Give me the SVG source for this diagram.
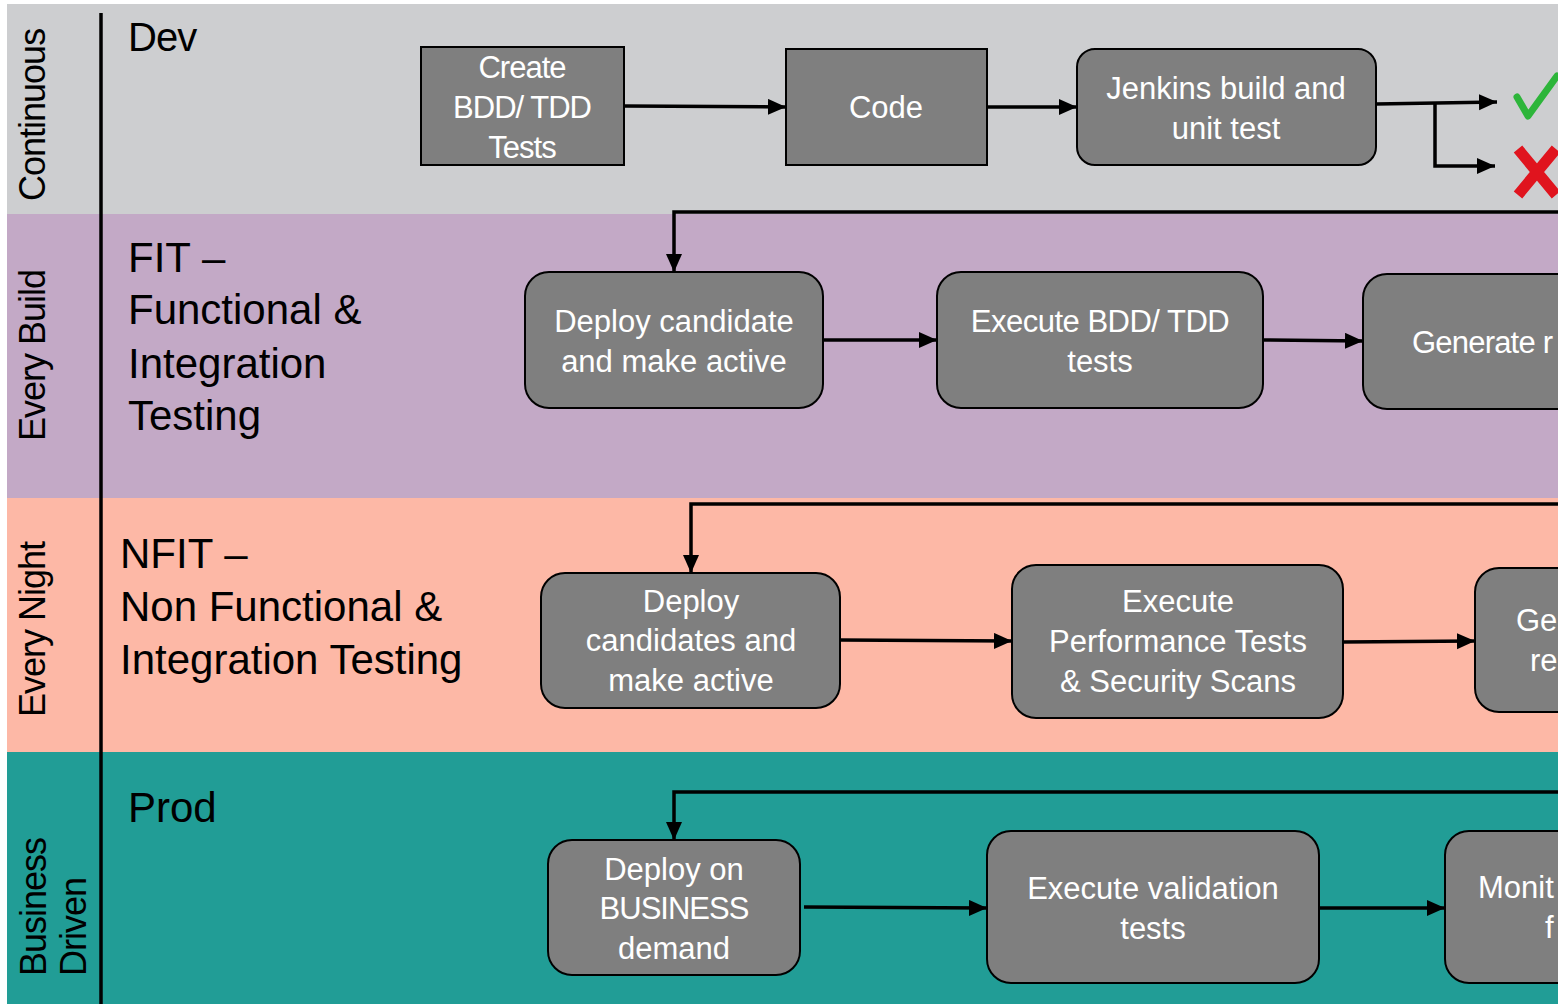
<svg xmlns="http://www.w3.org/2000/svg" width="1558" height="1004" viewBox="0 0 1558 1004">
<defs>
<marker id="ah" markerUnits="userSpaceOnUse" markerWidth="20" markerHeight="18" refX="18" refY="8" orient="auto">
<path d="M0,0 L18,8 L0,16 Z" fill="#000"/>
</marker>
<style>
.lane-label{font-family:"Liberation Sans",Arial,sans-serif;font-size:36px;fill:#000;letter-spacing:-1px}
.title{font-family:"Liberation Sans",Arial,sans-serif;font-size:42px;fill:#000}
.box{fill:#7F7F7F;stroke:#000;stroke-width:2}
.bt{font-family:"Liberation Sans",Arial,sans-serif;font-size:31px;fill:#fff;text-anchor:middle}
.conn{fill:none;stroke:#000;stroke-width:3.5}
</style>
</defs>
<rect width="1558" height="1004" fill="#fff"/>
<g id="lanes">
<rect x="7" y="4" width="1551" height="210" fill="#CDCED0"/>
<rect x="7" y="214" width="1551" height="284" fill="#C3A9C6"/>
<rect x="7" y="498" width="1551" height="254" fill="#FDB8A6"/>
<rect x="7" y="752" width="1551" height="252" fill="#219D96"/>
<line x1="101" y1="13" x2="101" y2="1004" stroke="#000" stroke-width="3.5"/>
</g>
<g id="lane-labels">
<text class="lane-label" transform="translate(45,201) rotate(-90)">Continuous</text>
<text class="lane-label" transform="translate(45,441) rotate(-90)">Every Build</text>
<text class="lane-label" transform="translate(45,717) rotate(-90)">Every Night</text>
<text class="lane-label" transform="translate(46,976) rotate(-90)">Business</text>
<text class="lane-label" transform="translate(86,976) rotate(-90)">Driven</text>
</g>
<g id="titles">
<text class="title" x="128" y="51" style="font-size:40px;letter-spacing:-1px">Dev</text>
<text class="title" x="128" y="272">FIT –</text>
<text class="title" x="128" y="324">Functional &amp;</text>
<text class="title" x="128" y="378">Integration</text>
<text class="title" x="128" y="430">Testing</text>
<text class="title" x="120" y="568">NFIT –</text>
<text class="title" x="120" y="621">Non Functional &amp;</text>
<text class="title" x="120" y="674">Integration Testing</text>
<text class="title" x="128" y="822">Prod</text>
</g>
<g id="connectors">
<line class="conn" x1="624" y1="106" x2="786" y2="107" marker-end="url(#ah)"/>
<line class="conn" x1="987" y1="107" x2="1077" y2="107" marker-end="url(#ah)"/>
<line class="conn" x1="1376" y1="104" x2="1497" y2="102" marker-end="url(#ah)"/>
<polyline class="conn" points="1435,103 1435,166 1495,166" marker-end="url(#ah)"/>
<polyline class="conn" points="1558,212 674,212 674,272" marker-end="url(#ah)"/>
<line class="conn" x1="823" y1="340" x2="937" y2="340" marker-end="url(#ah)"/>
<line class="conn" x1="1263" y1="340" x2="1363" y2="341" marker-end="url(#ah)"/>
<polyline class="conn" points="1558,504 691,504 691,573" marker-end="url(#ah)"/>
<line class="conn" x1="840" y1="640" x2="1012" y2="641" marker-end="url(#ah)"/>
<line class="conn" x1="1343" y1="642" x2="1475" y2="641" marker-end="url(#ah)"/>
<polyline class="conn" points="1558,792 674,792 674,840" marker-end="url(#ah)"/>
<line class="conn" x1="804" y1="907" x2="987" y2="908" marker-end="url(#ah)"/>
<line class="conn" x1="1319" y1="908" x2="1445" y2="908" marker-end="url(#ah)"/>
</g>
<g id="n-create">
<rect class="box" x="421" y="47" width="203" height="118"/>
<text class="bt" x="522" y="78" style="letter-spacing:-1px">Create</text>
<text class="bt" x="522" y="118" style="letter-spacing:-1px">BDD/ TDD</text>
<text class="bt" x="522" y="158" style="letter-spacing:-1px">Tests</text>
</g>
<g id="n-code">
<rect class="box" x="786" y="49" width="201" height="116"/>
<text class="bt" x="886" y="118">Code</text>
</g>
<g id="n-jenkins">
<rect class="box" x="1077" y="49" width="299" height="116" rx="18"/>
<text class="bt" x="1226" y="99">Jenkins build and</text>
<text class="bt" x="1226" y="139">unit test</text>
</g>
<g id="n-pass">
<path d="M1517,97 L1528,116 L1557,76" fill="none" stroke="#2DB53A" stroke-width="7" stroke-linejoin="round" stroke-linecap="round"/>
</g>
<g id="n-fail">
<path d="M1518,149 L1556,195 M1556,149 L1518,195" fill="none" stroke="#E0141E" stroke-width="11"/>
</g>
<g id="n-deploy-fit">
<rect class="box" x="525" y="272" width="298" height="136" rx="24"/>
<text class="bt" x="674" y="332">Deploy candidate</text>
<text class="bt" x="674" y="372">and make active</text>
</g>
<g id="n-exec-bdd">
<rect class="box" x="937" y="272" width="326" height="136" rx="24"/>
<text class="bt" x="1100" y="332" style="letter-spacing:-0.5px">Execute BDD/ TDD</text>
<text class="bt" x="1100" y="372">tests</text>
</g>
<g id="n-gen-fit">
<rect class="box" x="1363" y="274" width="230" height="135" rx="24"/>
<text class="bt" x="1412" y="353" style="text-anchor:start;letter-spacing:-0.8px">Generate r</text>
</g>
<g id="n-deploy-nfit">
<rect class="box" x="541" y="573" width="299" height="135" rx="24"/>
<text class="bt" x="691" y="612">Deploy</text>
<text class="bt" x="691" y="651">candidates and</text>
<text class="bt" x="691" y="691">make active</text>
</g>
<g id="n-exec-perf">
<rect class="box" x="1012" y="565" width="331" height="153" rx="24"/>
<text class="bt" x="1178" y="612">Execute</text>
<text class="bt" x="1178" y="652">Performance Tests</text>
<text class="bt" x="1178" y="692">&amp; Security Scans</text>
</g>
<g id="n-gen-nfit">
<rect class="box" x="1475" y="568" width="120" height="144" rx="24"/>
<text class="bt" x="1516" y="631" style="text-anchor:start">Ge</text>
<text class="bt" x="1530" y="671" style="text-anchor:start">re</text>
</g>
<g id="n-deploy-prod">
<rect class="box" x="548" y="840" width="252" height="135" rx="24"/>
<text class="bt" x="674" y="880">Deploy on</text>
<text class="bt" x="674" y="919" style="letter-spacing:-1px">BUSINESS</text>
<text class="bt" x="674" y="959">demand</text>
</g>
<g id="n-exec-val">
<rect class="box" x="987" y="831" width="332" height="152" rx="24"/>
<text class="bt" x="1153" y="899">Execute validation</text>
<text class="bt" x="1153" y="939">tests</text>
</g>
<g id="n-monitor">
<rect class="box" x="1445" y="831" width="150" height="152" rx="24"/>
<text class="bt" x="1478" y="898" style="text-anchor:start">Monit</text>
<text class="bt" x="1545" y="938" style="text-anchor:start">f</text>
</g>
</svg>
